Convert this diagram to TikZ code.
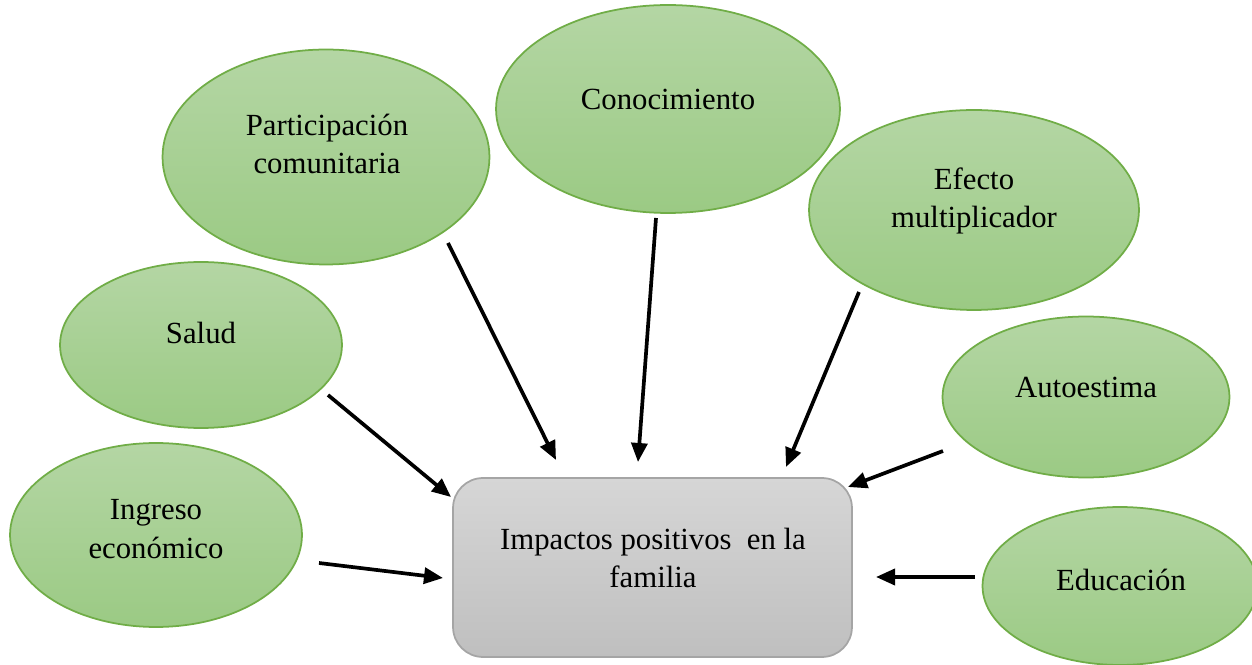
\documentclass[tikz,border=0pt]{standalone}
\usepackage{fontspec}
\setmainfont{Liberation Serif}
\usetikzlibrary{shapes.geometric,arrows.meta}
\definecolor{gtop}{HTML}{B4D6A4}
\definecolor{gbot}{HTML}{9BCA84}
\definecolor{gline}{HTML}{70AD47}
\definecolor{btop}{HTML}{D6D6D6}
\definecolor{bbot}{HTML}{BFBFBF}
\definecolor{bline}{HTML}{A5A5A5}
\begin{document}
\begin{tikzpicture}[x=0.02cm,y=-0.02cm,
  bubble/.style={ellipse, draw=gline, line width=1pt, top color=gtop, bottom color=gbot, inner sep=0pt},
  lbl/.style={align=center, font=\fontsize{17.5}{22}\selectfont, inner sep=0pt},
  arr/.style={line width=2.1pt, -{Triangle[length=0.38cm,width=0.32cm]}}]
\useasboundingbox (0,0) rectangle (1252,665);
\begin{scope}
\clip (0,0) rectangle (1252,665);
% ellipses
\node[bubble, minimum width=6.54cm, minimum height=4.3cm] (part) at (326,157) {};
\node[bubble, minimum width=6.88cm, minimum height=4.16cm] (cono) at (668,109) {};
\node[bubble, minimum width=6.6cm, minimum height=4.0cm] (efec) at (974,210) {};
\node[bubble, minimum width=5.64cm, minimum height=3.32cm] (salud) at (201,345) {};
\node[bubble, minimum width=5.74cm, minimum height=3.22cm] (auto) at (1086,397) {};
\node[bubble, minimum width=5.84cm, minimum height=3.68cm] (ingr) at (156,535) {};
\node[bubble, minimum width=5.5cm, minimum height=3.16cm] (educ) at (1120,586) {};
% central box
\node[draw=bline, line width=1pt, rounded corners=0.6cm, top color=btop, bottom color=bbot,
      minimum width=7.98cm, minimum height=3.58cm, inner sep=0pt] (box) at (652.5,567.5) {};
\end{scope}
% labels
\node[lbl] (partT) at (327,144) {Participación\\comunitaria};
\node[lbl] (conoT) at (668,99) {Conocimiento};
\node[lbl] (efecT) at (974,201) {Efecto\\multiplicador};
\node[lbl] (saludT) at (201,333) {Salud};
\node[lbl] (autoT) at (1086,387) {Autoestima};
\node[lbl] (ingrT) at (156,529) {Ingreso\\económico};
\node[lbl] (educT) at (1121,580) {Educación};
\node[lbl] (boxT) at (653,558) {Impactos positivos\ \ en la\\familia};
% arrow end points
\coordinate (p1) at (448,243); \coordinate (q1) at (556,460);
\coordinate (p2) at (656,218); \coordinate (q2) at (638,462);
\coordinate (p3) at (859,292); \coordinate (q3) at (786,467);
\coordinate (p4) at (943,451); \coordinate (q4) at (848,487);
\coordinate (p5) at (975,577); \coordinate (q5) at (876,577);
\coordinate (p6) at (328,395); \coordinate (q6) at (451,497);
\coordinate (p7) at (319,563); \coordinate (q7) at (443,578);
\foreach \i in {1,...,7} \draw[arr] (p\i) -- (q\i);
\end{tikzpicture}
\end{document}
